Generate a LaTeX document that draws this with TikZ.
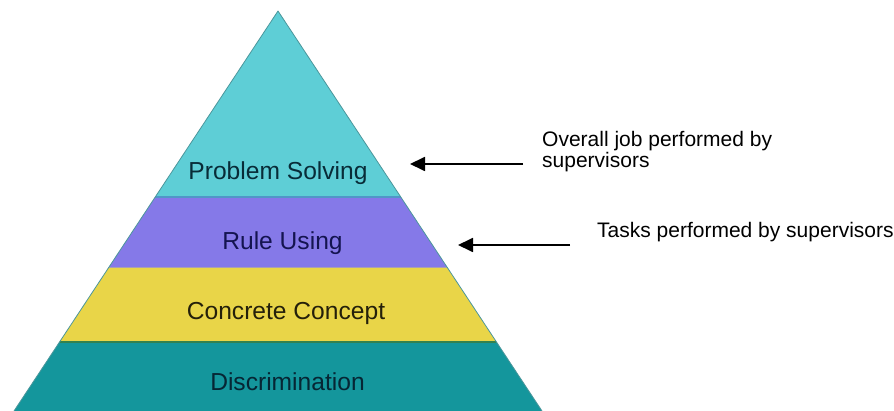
\documentclass[tikz,border=0pt]{standalone}
\usepackage{fontspec}
\setmainfont{Liberation Sans}
\usetikzlibrary{arrows.meta}

\definecolor{psfill}{RGB}{94,206,214}
\definecolor{rufill}{RGB}{133,121,232}
\definecolor{ccfill}{RGB}{233,213,72}
\definecolor{dfill}{RGB}{20,150,156}
\definecolor{psline}{RGB}{80,150,200}
\definecolor{ruline}{RGB}{170,160,175}
\definecolor{ccline}{RGB}{50,130,80}
\definecolor{edge}{RGB}{75,150,155}
\definecolor{pstext}{RGB}{8,44,56}
\definecolor{rutext}{RGB}{20,20,80}
\definecolor{cctext}{RGB}{36,32,10}
\definecolor{dtext}{RGB}{6,38,52}

\tikzset{
  levellabel/.style={anchor=base, inner sep=0pt, font=\fontsize{24.6}{28}\selectfont},
  note/.style={anchor=base west, inner sep=0pt, align=left,
               font=\fontsize{21}{21}\selectfont},
  pointer/.style={line width=1.8pt, -{Triangle[length=15pt,width=14pt]}},
}

\begin{document}
\begin{tikzpicture}[x=1pt,y=-1pt]
  \useasboundingbox (0,0) rectangle (894,411);

  % pyramid corners
  \coordinate (apex) at (278,11);
  \coordinate (bl) at (14,411);
  \coordinate (br) at (542,411);

  % coloured bands, cut to the triangle
  \begin{scope}
    \clip (apex) -- (bl) -- (br) -- cycle;
    \fill[psfill] (0,0) rectangle (894,197);
    \fill[rufill] (0,197) rectangle (894,268);
    \fill[ccfill] (0,268) rectangle (894,342);
    \fill[dfill] (0,342) rectangle (894,411);
    \draw[psline, line width=1.5pt] (0,197) -- (894,197);
    \draw[ruline, line width=1pt] (0,268) -- (894,268);
    \draw[ccline, line width=2pt] (0,342) -- (894,342);
  \end{scope}
  \draw[edge, line width=0.8pt, line join=round] (bl) -- (apex) -- (br);

  % level names
  \node[levellabel, text=pstext] (ps) at (278,179.3) {Problem Solving};
  \node[levellabel, text=rutext] (ru) at (282.5,250) {Rule Using};
  \node[levellabel, text=cctext] (cc) at (286,320) {Concrete Concept};
  \node[levellabel, text=dtext] (di) at (287.5,390.7) {Discrimination};

  % side notes
  \node[note] (job) at (542,168) {Overall job performed by\\supervisors};
  \node[note] (tasks) at (597,238) {Tasks performed by supervisors};

  % pointers from the notes to the pyramid
  \coordinate (jobtail) at (523,164);
  \coordinate (jobtip) at (410,164);
  \coordinate (tasktail) at (570,245);
  \coordinate (tasktip) at (458,245);
  \draw[pointer] (jobtail) -- (jobtip);
  \draw[pointer] (tasktail) -- (tasktip);
\end{tikzpicture}
\end{document}
